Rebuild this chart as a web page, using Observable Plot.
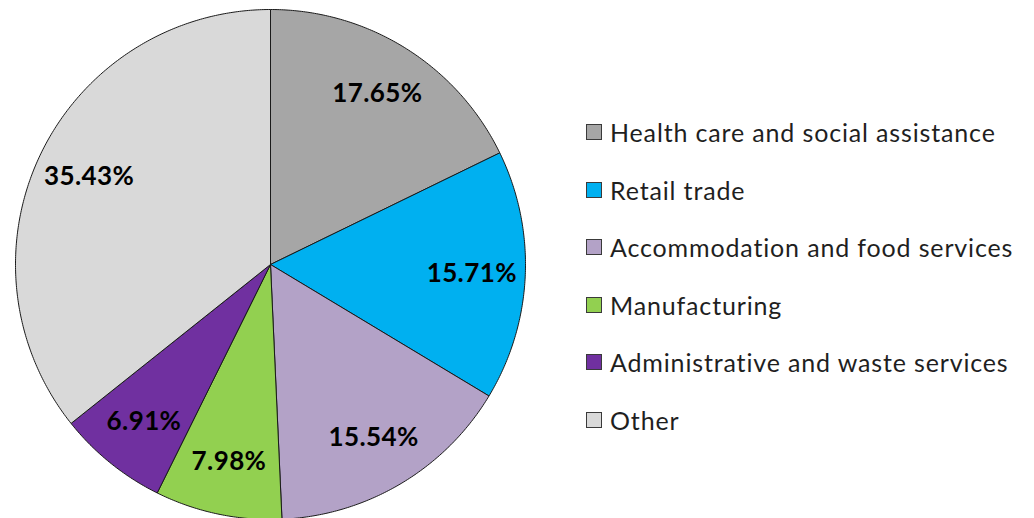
<!DOCTYPE html>
<html>
<head>
<meta charset="utf-8">
<script src="https://cdn.jsdelivr.net/npm/d3@7"></script>
<script src="https://cdn.jsdelivr.net/npm/@observablehq/plot@0.6"></script>
<style>
  body { margin: 0; background: #fff; }
  #wrap { position: relative; width: 1034px; height: 518px; overflow: hidden; font-family: Lato, "Open Sans", sans-serif; background:#fff; }
  #chart { position: absolute; left: 0; top: 0; }
  #legend { position: absolute; left: 586px; top: 0; }
  .row { position: absolute; left: 0; display: flex; align-items: center; white-space: nowrap; height: 30px; }
  .sw { width: 14px; height: 14px; border: 1px solid #3a3a3a; margin-right: 8px; flex: none; }
  .lab { font-size: 25px; letter-spacing: 0.85px; color: #1f1f1f; line-height: 30px; }
  #chart text { letter-spacing: 0.4px; }
</style>
</head>
<body>
<div id="wrap">
  <div id="chart"></div>
  <div id="legend"></div>
</div>
<script>
// ---- data ----
const categories = [
  "Health care and social assistance",
  "Retail trade",
  "Accommodation and food services",
  "Manufacturing",
  "Administrative and waste services",
  "Other"
];
const shares = [17.65, 15.71, 15.54, 7.98, 6.91, 35.43];
const colors = ["#A6A6A6", "#00B0F0", "#B3A2C7", "#92D050", "#7030A0", "#D9D9D9"];

// ---- layout ----
const W = 1034, H = 518;
const cx = 270, cy = 264, R = 255;   // pixel centre and radius of the pie
const labelRadius = 0.79;

// pie angles (clockwise from 12 o'clock), unit circle data space
const arcs = d3.pie().sort(null).value(d => d)(shares);
const slicePts = [];
arcs.forEach((a, i) => {
  const cat = categories[i];
  slicePts.push({cat, x: 0, y: 0});
  const n = Math.max(2, Math.ceil((a.endAngle - a.startAngle) / (Math.PI / 360)));
  for (let k = 0; k <= n; k++) {
    const t = a.startAngle + (a.endAngle - a.startAngle) * k / n;
    slicePts.push({cat, x: Math.sin(t), y: Math.cos(t)});
  }
  slicePts.push({cat, x: 0, y: 0});
});
const labels = arcs.map((a, i) => {
  const m = (a.startAngle + a.endAngle) / 2;
  return {x: labelRadius * Math.sin(m), y: labelRadius * Math.cos(m), text: shares[i].toFixed(2) + "%"};
});

const chart = Plot.plot({
  width: W,
  height: H,
  margin: 0,
  style: {fontFamily: "Lato, 'Open Sans', sans-serif", background: "transparent", overflow: "visible"},
  x: {axis: null, domain: [-cx / R, (W - cx) / R]},
  y: {axis: null, domain: [(cy - H) / R, cy / R]},
  color: {domain: categories, range: colors},
  marks: [
    Plot.line(slicePts, {x: "x", y: "y", z: "cat", fill: "cat", stroke: "#1a1a1a", strokeWidth: 1, strokeLinejoin: "round", curve: "linear"}),
    Plot.text(labels, {x: "x", y: "y", text: "text", fontSize: 26, fontWeight: "bold", fill: "#000"})
  ]
});
document.getElementById("chart").appendChild(chart);

// ---- legend ----
const legend = document.getElementById("legend");
const rowTop = 117, rowStep = 57.6;
categories.forEach((c, i) => {
  const row = document.createElement("div");
  row.className = "row";
  row.style.top = (rowTop + i * rowStep) + "px";
  const sw = document.createElement("div");
  sw.className = "sw";
  sw.style.background = colors[i];
  const lab = document.createElement("span");
  lab.className = "lab";
  lab.textContent = c;
  row.appendChild(sw);
  row.appendChild(lab);
  legend.appendChild(row);
});
</script>
</body>
</html>
